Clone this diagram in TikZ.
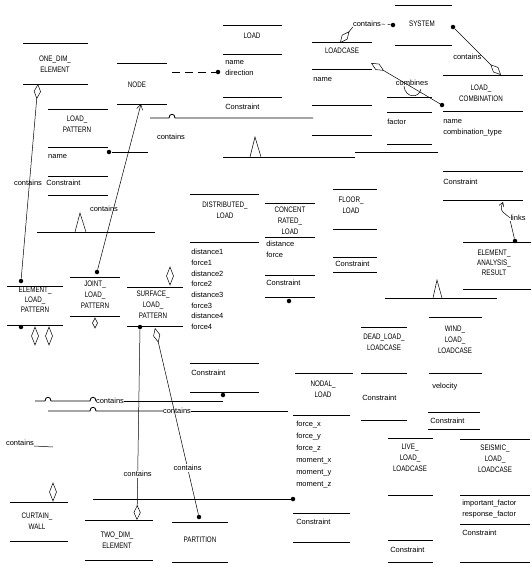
\documentclass[tikz,border=0pt]{standalone}
\usepackage{fontspec}
\setmainfont{Liberation Sans}
\newfontfamily\titlefont{Liberation Sans}[FakeStretch=0.78]
\usetikzlibrary{arrows.meta}

\tikzset{
  bar/.style={line width=0.8pt},
  lbl/.style={inner sep=0pt, font=\titlefont\fontsize{8}{11}\selectfont, align=center},
  att/.style={inner sep=0pt, font=\fontsize{7.5}{11}\selectfont, anchor=west, align=left},
  note/.style={inner sep=0pt, font=\fontsize{7.5}{11}\selectfont},
  dot/.style={circle, fill, inner sep=0pt, minimum size=4.5pt},
  has/.style={-{Diamond[open,length=15pt,width=7pt]}},
}

\begin{document}
\begin{tikzpicture}[x=1pt,y=-1pt,line width=0.5pt]
    \useasboundingbox (0,0) rectangle (531,571);

    % ONE_DIM_ELEMENT
    \foreach \y in {43,84} \draw[bar] (23,\y) -- (88,\y);
    \node[lbl] (onedim) at (55,64) {ONE\_DIM\_\\ELEMENT};

    % NODE
    \foreach \y in {63,104} \draw[bar] (117,\y) -- (167,\y);
    \node[lbl] (node) at (137,85) {NODE};
    \coordinate (nodeend) at (172,72);
    \coordinate (nodebot) at (141,104);

    % LOAD
    \foreach \y in {25,54,97} \draw[bar] (223,\y) -- (282,\y);
    \node[lbl] (load) at (252,36) {LOAD};
    \node[att] (loadatt) at (225,68.5) {name\\direction};
    \node[att] (loadcon) at (225,107) {Constraint};
    \node[dot] (loaddot) at (218,72) {};
    \draw[dash pattern=on 8pt off 5pt] (nodeend) -- (loaddot);

    % line under LOAD, with a hop
    \coordinate (hopa) at (150,118);
    \coordinate (hopb) at (313,118);
    \draw[bar] (hopa) -- (169,118) .. controls (169,113) and (175,113) .. (175,118) -- (hopb);
    \node[note] (cont1) at (171,137) {contains};

    % LOAD_PATTERN
    \foreach \y in {109,147,176,195} \draw[bar] (48,\y) -- (108,\y);
    \node[lbl] (lpat) at (77,124) {LOAD\_\\PATTERN};
    \node[att] (lpname) at (48,157) {name};
    \node[att] (lpcon) at (46,183) {Constraint};
    \node[dot] (lpdot) at (109,152) {};
    \coordinate (lpend) at (148,152);
    \draw (lpend) -- (lpdot);

    % generalisation under LOAD
    \draw (250,157) -- (255,137) -- (261,157);
    \draw[bar] (223,157) -- (355,157);

    % LOADCASE
    \foreach \y in {42,69,105,135} \draw[bar] (312,\y) -- (372,\y);
    \node[lbl] (lcase) at (342,51) {LOADCASE};
    \node[att] (lcname) at (313,80) {name};

    % SYSTEM
    \foreach \y in {5,45} \draw[bar] (395,\y) -- (452,\y);
    \node[lbl] (system) at (422,24) {SYSTEM};
    \node[dot] (sysdota) at (393,25) {};
    \node[dot] (sysdotb) at (453,27) {};
    \node[note] (cont2) at (367,24) {contains};
    \coordinate (lcdia) at (340,43);
    \draw[dashed] (sysdota) -- (cont2.east);
    \draw[has] (cont2.south west) -- (lcdia);

    % LOAD_COMBINATION
    \foreach \y in {75,111,171,200} \draw[bar] (443,\y) -- (523,\y);
    \node[lbl] (lcomb) at (481,93) {LOAD\_\\COMBINATION};
    \node[att] (lcatt) at (443,128) {name\\combination\_type};
    \node[att] (lccon) at (443,182) {Constraint};
    \coordinate (lcombdia) at (501,75);
    \draw[has] (sysdotb) -- node[note, left=1pt, pos=0.6] (cont3) {contains} (lcombdia);

    % combines
    \node[dot] (combdot) at (442,105) {};
    \coordinate (combdia) at (371,63);
    \draw[has] (combdot) -- (combdia);
    \node[note] (comb) at (412,83) {combines};
    \draw (404,86) .. controls (405,98) and (419,99) .. (421,89);
    \foreach \y in {97,112,144} \draw[bar] (387,\y) -- (432,\y);
    \node[att] (factor) at (387,122) {factor};
    \draw[bar] (355,152) -- (438,152);

    % FLOOR_LOAD
    \foreach \y in {189,229,257,272} \draw[bar] (333,\y) -- (377,\y);
    \node[lbl] (floor) at (351,205) {FLOOR\_\\LOAD};
    \node[att] (flcon) at (335,264) {Constraint};

    % DISTRIBUTED_LOAD
    \foreach \y in {194,242,363,392} \draw[bar] (190,\y) -- (259,\y);
    \node[lbl] (distl) at (225,210) {DISTRIBUTED\_\\LOAD};
    \node[att, font=\fontsize{7.5}{10.7}\selectfont] (distatt) at (191,289.5)
        {distance1\\force1\\distance2\\force2\\distance3\\force3\\distance4\\force4};
    \node[att] (dlcon) at (191,373) {Constraint};
    \node[dot] (dldot) at (223,395) {};

    % CONCENTRATED_LOAD
    \foreach \y in {203,237,275,297} \draw[bar] (265,\y) -- (315,\y);
    \node[lbl] (conc) at (290,221) {CONCENT\\RATED\_\\LOAD};
    \node[att] (concatt) at (266,249) {distance\\force};
    \node[att] (conccon) at (266,283) {Constraint};
    \node[dot] (concdot) at (289,301) {};

    % generalisation right
    \draw (433,298) -- (437,280) -- (442,298);
    \draw[bar] (385,298) -- (497,298);

    % ELEMENT_ANALYSIS_RESULT
    \foreach \y in {242,289} \draw[bar] (463,\y) -- (531,\y);
    \node[lbl, font=\titlefont\fontsize{8}{10}\selectfont] (ear) at (494,263) {ELEMENT\_\\ANALYSIS\_\\RESULT};
    \node[dot] (eardot) at (515,241) {};
    \node[note] (links) at (518,218) {links};
    \coordinate (linkend) at (503,202);
    \draw (eardot) -- (links.south west);
    \draw[{Straight Barb[length=4pt,width=5pt]}-] (linkend) .. controls (500,210) .. (links.west);

    % DEAD_LOAD_LOADCASE
    \foreach \y in {327,373,420} \draw[bar] (361,\y) -- (407,\y);
    \node[lbl] (dead) at (384,342) {DEAD\_LOAD\_\\LOADCASE};
    \node[att] (deadcon) at (362,398) {Constraint};

    % WIND_LOAD_LOADCASE
    \foreach \y in {317,373} \draw[bar] (429,\y) -- (482,\y);
    \foreach \y in {412,429} \draw[bar] (428,\y) -- (480,\y);
    \node[lbl] (wind) at (455,340) {WIND\_\\LOAD\_\\LOADCASE};
    \node[att] (windvel) at (432,387) {velocity};
    \node[att] (windcon) at (430,421) {Constraint};

    % LIVE_LOAD_LOADCASE
    \foreach \y in {438,495,540,562} \draw[bar] (388,\y) -- (433,\y);
    \node[lbl] (live) at (410,458) {LIVE\_\\LOAD\_\\LOADCASE};
    \node[att] (livecon) at (390,550) {Constraint};

    % SEISMIC_LOAD_LOADCASE
    \foreach \y in {439,495,524,562} \draw[bar] (460,\y) -- (530,\y);
    \node[lbl] (seis) at (495,459) {SEISMIC\_\\LOAD\_\\LOADCASE};
    \node[att] (seisatt) at (462,509) {important\_factor\\response\_factor};
    \node[att] (seiscon) at (462,533) {Constraint};

    % NODAL_LOAD
    \draw[bar] (295,373) -- (353,373);
    \foreach \y in {415,513,542} \draw[bar] (293,\y) -- (350,\y);
    \node[lbl] (nodal) at (323,389) {NODAL\_\\LOAD};
    \node[att, font=\fontsize{7.5}{12}\selectfont] (nodalatt) at (296,455)
        {force\_x\\force\_y\\force\_z\\moment\_x\\moment\_y\\moment\_z};
    \node[att] (nodalcon) at (296,522) {Constraint};

    % ELEMENT_LOAD_PATTERN
    \foreach \y in {286,325} \draw[bar] (7,\y) -- (63,\y);
    \node[lbl, font=\titlefont\fontsize{8}{10}\selectfont] (elp) at (35,300) {ELEMENT\_\\LOAD\_\\PATTERN};
    \node[dot] (elpdota) at (21,281) {};
    \node[dot] (elpdotb) at (21,327) {};
    \draw (35,327) -- ++(3.5,9) -- ++(-3.5,9) -- ++(-3.5,-9) -- cycle;
    \draw (49,327) -- ++(3.5,9) -- ++(-3.5,9) -- ++(-3.5,-9) -- cycle;
    \coordinate (odbot) at (38,84);
    \draw[has] (elpdota) -- (odbot);
    \node[note] (cont4) at (28,183) {contains};

    % JOINT_LOAD_PATTERN
    \foreach \y in {277,316} \draw[bar] (70,\y) -- (120,\y);
    \node[lbl] (jlp) at (95,295) {JOINT\_\\LOAD\_\\PATTERN};
    \node[dot] (jlpdot) at (97,272) {};
    \draw (95,318) -- ++(2.5,5) -- ++(-2.5,5) -- ++(-2.5,-5) -- cycle;
    \draw[-{Straight Barb[length=5pt,width=6pt]}] (jlpdot) -- (nodebot);
    \node[note] (cont5) at (104,209) {contains};

    % generalisation left
    \draw (75,232) -- (80,213) -- (86,232);
    \draw[bar] (37,232) -- (155,232);

    % SURFACE_LOAD_PATTERN
    \foreach \y in {287,326} \draw[bar] (127,\y) -- (183,\y);
    \draw (170,267) -- ++(3.5,9) -- ++(-3.5,9) -- ++(-3.5,-9) -- cycle;
    \node[lbl] (slp) at (153,305) {SURFACE\_\\LOAD\_\\PATTERN};
    \node[dot] (slpdot) at (140,327) {};
    \coordinate (slpdia) at (155,328);

    % PARTITION
    \foreach \y in {522,562} \draw[bar] (172,\y) -- (228,\y);
    \node[lbl] (part) at (200,540) {PARTITION};
    \node[dot] (partdot) at (199,517) {};
    \draw[has] (partdot) -- node[note, fill=white, inner sep=1pt, pos=0.25] (cont6) {contains} (slpdia);

    % TWO_DIM_ELEMENT
    \coordinate (tdbar) at (93,499);
    \node[dot] (nodaldot) at (293,499) {};
    \draw[bar] (tdbar) -- (nodaldot);
    \foreach \y in {520,560} \draw[bar] (85,\y) -- (153,\y);
    \node[lbl] (twodim) at (117,540) {TWO\_DIM\_\\ELEMENT};
    \coordinate (tddia) at (137,520);
    \draw[has] (slpdot) -- node[note, fill=white, inner sep=1pt, pos=0.76] (cont7) {contains} (tddia);

    % CURTAIN_WALL
    \foreach \y in {502,541} \draw[bar] (10,\y) -- (68,\y);
    \node[lbl] (cwall) at (37,521) {CURTAIN\_\\WALL};
    \draw (53,483) -- ++(3.5,9) -- ++(-3.5,9) -- ++(-3.5,-9) -- cycle;
    \node[note] (cont8) at (20,443) {contains};
    \coordinate (cwend) at (53,447);
    \draw (cont8.south east) -- (cwend);

    % long contains lines
    \coordinate (lonea) at (35,401);
    \coordinate (loneb) at (223,401);
    \node[note] (cont9) at (110,401) {contains};
    \draw[bar] (lonea) -- (45,401) .. controls (45,396) and (51,396) .. (51,401)
        -- (90,401) .. controls (90,396) and (96,396) .. (96,401) -- (cont9.west);
    \draw[bar] (cont9.east) -- (loneb);
    \coordinate (ltwoa) at (48,411);
    \coordinate (ltwob) at (288,411);
    \node[note] (cont10) at (177,411) {contains};
    \draw[bar] (ltwoa) -- (90,411) .. controls (90,406) and (96,406) .. (96,411) -- (cont10.west);
    \draw[bar] (cont10.east) -- (ltwob);
\end{tikzpicture}
\end{document}
